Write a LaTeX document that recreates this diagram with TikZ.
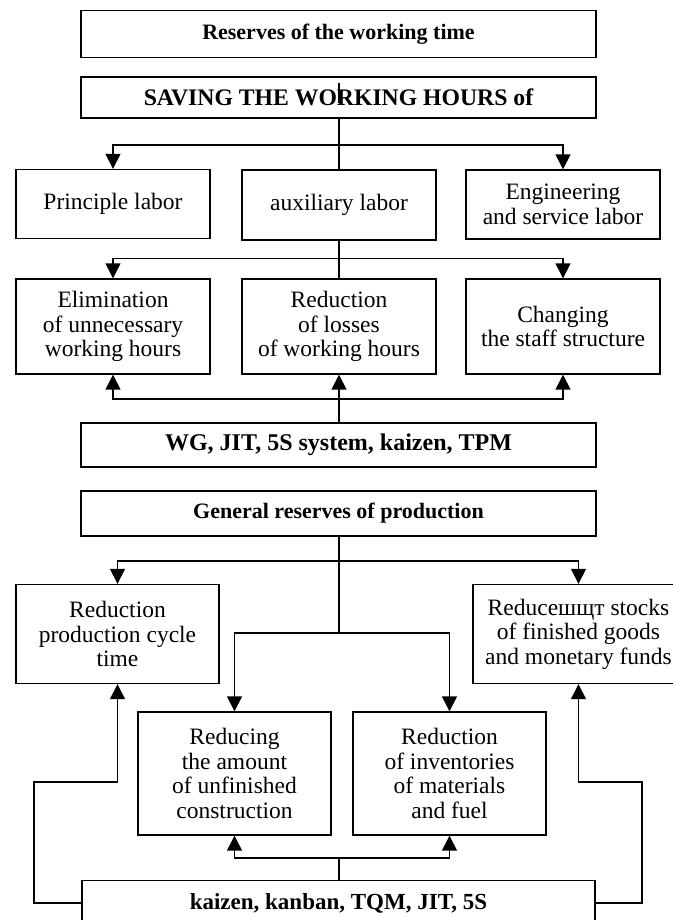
\documentclass[tikz,border=0pt]{standalone}
\usepackage{fontspec}
\setmainfont{Liberation Serif}
\usetikzlibrary{arrows.meta}
\begin{document}
\begin{tikzpicture}[x=1pt,y=-1pt,
  box/.style={draw,line width=1.4pt,inner sep=0pt,align=center,
    font=\fontsize{23.5}{24.5}\selectfont},
  hbox/.style={box,minimum width=515pt},
  arr/.style={line width=1.5pt,-{Triangle[length=15pt,width=15pt]}},
  ln/.style={line width=1.5pt}]
\useasboundingbox (0,0) rectangle (672,920);
% nodes
\node[hbox,minimum height=47pt,font=\bfseries\fontsize{22}{24}\selectfont] (res) at (338.5,34) {Reserves of the working time};
\node[hbox,minimum height=41pt,font=\bfseries\fontsize{23.7}{24}\selectfont] (sav) at (338.5,97.5) {SAVING THE WORKING HOURS of};
\node[box,minimum width=194pt,minimum height=69pt] (prin) at (113,204) {Principle labor};
\node[box,minimum width=194pt,minimum height=70pt] (aux) at (339,205) {auxiliary labor};
\node[box,minimum width=194pt,minimum height=69pt] (eng) at (563,204.5) {Engineering\\and service labor};
\node[box,minimum width=194pt,minimum height=95pt] (elim) at (113,326.5) {Elimination\\of unnecessary\\working hours};
\node[box,minimum width=194pt,minimum height=95pt] (redl) at (339,326.5) {Reduction\\of losses\\of working hours};
\node[box,minimum width=194pt,minimum height=95pt] (chg) at (563,326.5) {Changing\\the staff structure};
\node[hbox,minimum height=44pt,font=\bfseries\fontsize{24}{24}\selectfont] (wg) at (338.5,445) {WG, JIT, 5S system, kaizen, TPM};
\node[hbox,minimum height=45pt,font=\bfseries\fontsize{22}{24}\selectfont] (gen) at (338.5,513.5) {General reserves of production};
\node[box,minimum width=203pt,minimum height=99pt] (rpc) at (117.5,634) {Reduction\\production cycle\\time};
\node[box,minimum width=211pt,minimum height=99pt] (rst) at (578.5,634) {Reduceшщт stocks\\of finished goods\\and monetary funds};
\node[box,minimum width=193pt,minimum height=123pt] (rua) at (234.5,773.5) {Reducing\\the amount\\of unfinished\\construction};
\node[box,minimum width=193pt,minimum height=123pt] (rim) at (449.5,773.5) {Reduction\\of inventories\\of materials\\and fuel};
\node[box,minimum width=513pt,minimum height=46pt,font=\bfseries\fontsize{23}{24}\selectfont] (kai) at (338.5,903.5) {kaizen, kanban, TQM, JIT, 5S};
% coordinates
\coordinate (s1) at (339,83);
\coordinate (s2) at (339,103);
\coordinate (b1) at (339,145);
\coordinate (b2) at (339,258.5);
\coordinate (b3) at (339,399);
\coordinate (b4) at (339,561);
\coordinate (b5) at (339,633);
\coordinate (b6) at (339,858);
\coordinate (l1) at (34,903);
\coordinate (l2) at (34,782);
\coordinate (r1) at (642,903);
\coordinate (r2) at (642,782);
% connectors
\draw[ln] (s1) -- (s2);
\draw[ln] (sav.south -| b1) -- (b1 |- aux.north);
\draw[arr] (b1) -| (prin.north);
\draw[arr] (b1) -| (eng.north);
\draw[ln] (aux.south -| b2) -- (b2 |- redl.north);
\draw[arr] (b2) -| (elim.north);
\draw[arr] (b2) -| (chg.north);
\draw[arr] (wg.north -| b3) -- (b3 |- redl.south);
\draw[arr] (b3) -| (elim.south);
\draw[arr] (b3) -| (chg.south);
\draw[ln] (gen.south -| b4) -- (b5);
\draw[arr] (b4) -| (rpc.north);
\draw[arr] (b4) -| (rst.north);
\draw[arr] (b5) -| (rua.north);
\draw[arr] (b5) -| (rim.north);
\draw[ln] (kai.north -| b6) -- (b6);
\draw[arr] (b6) -| (rua.south);
\draw[arr] (b6) -| (rim.south);
\draw[arr] (kai.west |- l1) -- (l1) -- (l2) -| (rpc.south);
\draw[arr] (kai.east |- r1) -- (r1) -- (r2) -| (rst.south);
\end{tikzpicture}
\end{document}
